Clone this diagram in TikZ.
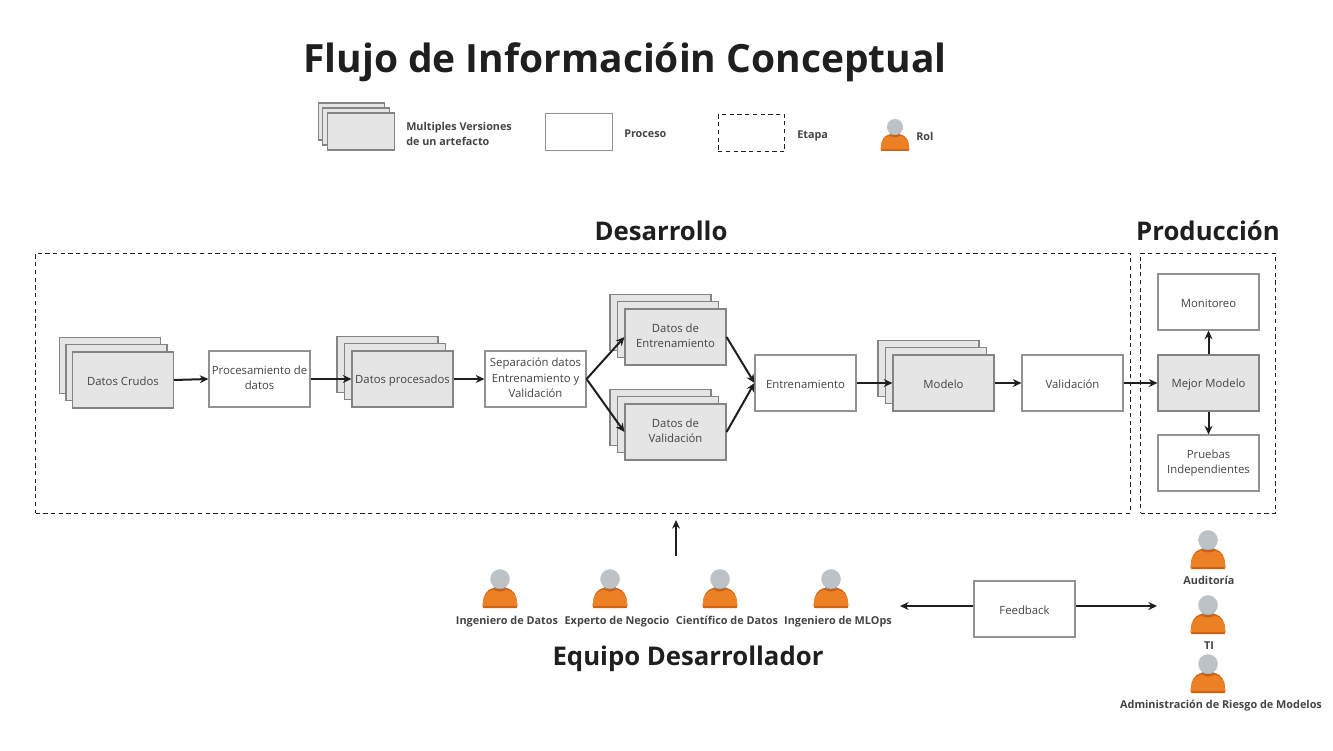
\documentclass[tikz,border=0pt]{standalone}
\usepackage{fontspec}
\setmainfont{Open Sans}
\usetikzlibrary{arrows.meta, positioning}
\definecolor{borde}{HTML}{929292}
\definecolor{bordeart}{HTML}{848484}
\definecolor{relleno}{HTML}{E5E5E5}
\definecolor{texto}{HTML}{444444}
\definecolor{negro}{HTML}{1F1F1F}
\definecolor{naranja}{HTML}{EC8024}
\definecolor{naranjaosc}{HTML}{CF5F0E}
\definecolor{gris}{HTML}{BCC2C6}
\tikzset{
  caja/.style={draw=borde, line width=0.85pt, minimum width=75.75pt, minimum height=42pt, inner sep=0pt, align=center, text=texto, font=\fontsize{8.5}{11.6}\selectfont, execute at begin node={\rule{0pt}{9.5pt}}, execute at end node={\rule[-2pt]{0pt}{2pt}}},
  proceso/.style={caja, fill=white},
  artefacto/.style={caja, draw=bordeart, fill=relleno},
  etapa/.style={draw=negro, line width=0.6pt, dash pattern=on 3.2pt off 2.6pt},
  flecha/.style={draw=negro, line width=1.5pt, -{Stealth[length=6.5pt,width=6pt]}},
  titulo/.style={text=negro, font=\bfseries\fontsize{19.3}{24}\selectfont},
  leyenda/.style={text=texto, anchor=west, align=left, inner sep=0pt, font=\bfseries\fontsize{8.1}{11.6}\selectfont},
  rolname/.style={text=texto, text height=7pt, text depth=2pt, font=\bfseries\fontsize{8.15}{10}\selectfont},
  rol/.pic={
    \fill[naranjaosc] (-16.5,29) to[out=170,in=-90] (-17,24) to[out=90,in=195] (-7,9) -- (7,9) to[out=-15,in=90] (17,24) to[out=-90,in=10] (16.5,29) -- cycle;
    \fill[naranja] (-16.8,27.2) to[out=175,in=-90] (-17,24) to[out=90,in=195] (-7,10.5) to[out=-30,in=210] (7,10.5) to[out=-15,in=90] (17,24) to[out=-90,in=5] (16.8,27.2) -- cycle;
    \fill[gris!70!black] (-6,5) rectangle (6,9.5);
    \fill[gris] (0,0) circle (9.8);
  }
}
\newcommand{\pila}[5][15]{
  \node[artefacto] (#2C) at (#3-#1,#4-14.5) {};
  \node[artefacto] (#2B) at (#3-#1/2,#4-7.25) {};
  \node[artefacto] (#2) at (#3,#4) {#5};
}
\begin{document}
\begin{tikzpicture}[x=0.75pt,y=-0.75pt]
  \useasboundingbox (0,0) rectangle (1333,750);
  % titulos
  \node[text=negro, font=\bfseries\fontsize{29.2}{36}\selectfont] (tituloPrincipal) at (625,62) {Flujo de Informacióin Conceptual};
  \node[titulo] (desarrollo) at (661,231) {Desarrollo};
  \node[titulo] (produccion) at (1208,231) {Producción};
  \node[titulo] (equipo) at (688,659) {Equipo Desarrollador};
  % leyenda
  \node[artefacto, minimum width=50pt, minimum height=27.75pt] (leyC) at (351.5,121.5) {};
  \node[artefacto, minimum width=50pt, minimum height=27.75pt] (leyB) at (356,126.5) {};
  \node[artefacto, minimum width=50pt, minimum height=27.75pt] (leyA) at (361,131.5) {};
  \node[leyenda] (leyArt) at (406,134) {Multiples Versiones\\de un artefacto};
  \node[proceso, minimum width=50pt, minimum height=27.75pt] (leyP) at (579,132) {};
  \node[leyenda] (leyProc) at (624,134) {Proceso};
  \node[etapa, minimum width=50pt, minimum height=27.75pt, inner sep=0pt] (leyE) at (751.5,133) {};
  \node[leyenda] (leyEtapa) at (797,136) {Etapa};
  \pic[scale=0.82] at (895,127) {rol};
  \node[leyenda] (leyRol) at (916,136) {Rol};
  % etapas
  \node[etapa, minimum width=821.25pt, minimum height=195pt, inner sep=0pt] (etapaDes) at (583,383) {};
  \node[etapa, minimum width=101.25pt, minimum height=195pt, inner sep=0pt] (etapaProd) at (1208,383) {};
  % desarrollo
  \pila[13]{crudos}{123}{380}{Datos Crudos}
  \node[proceso] (procesamiento) at (259.5,379) {Procesamiento de\\datos};
  \pila{procesados}{402.5}{379}{Datos procesados}
  \node[proceso] (separacion) at (535.5,379) {Separación datos\\Entrenamiento y\\Validación};
  \pila{dentrena}{675.5}{337}{Datos de\\Entrenamiento}
  \pila{dvalida}{675.5}{432}{Datos de\\Validación}
  \node[proceso] (entrenamiento) at (805.5,383) {Entrenamiento};
  \pila{modelo}{943.5}{383}{Modelo}
  \node[proceso] (validacion) at (1072.5,383) {Validación};
  % produccion
  \node[artefacto] (mejor) at (1208.5,383) {Mejor Modelo};
  \node[proceso] (monitoreo) at (1208.5,302) {Monitoreo};
  \node[proceso] (pruebas) at (1208.5,463) {Pruebas\\Independientes};
  % equipo
  \foreach \px/\lx/\nombre/\rolid in {500/507/Ingeniero de Datos/ingDatos, 610/617/Experto de Negocio/experto, 720/727/Científico de Datos/cientifico, 831/838/Ingeniero de MLOps/ingMlops}{
    \pic at (\px,579) {rol};
    \node[rolname] (\rolid) at (\lx,621) {\nombre};
  }
  \node[proceso] (feedback) at (1024.5,609) {Feedback};
  \pic at (1208,540) {rol};
  \node[rolname] (auditoria) at (1209,581) {Auditoría};
  \pic at (1208,605) {rol};
  \node[rolname] (ti) at (1209,646) {TI};
  \pic at (1208,664) {rol};
  \node[rolname] (riesgo) at (1221,705) {Administración de Riesgo de Modelos};
  % conectores
  \coordinate (apoyoA) at (676,556);
  \coordinate (apoyoB) at (676,520);
  \coordinate (fbEquipo) at (900,606);
  \coordinate (fbRoles) at (1157,606);
  \draw[flecha] (crudos.east) -- (procesamiento.west);
  \draw[flecha] (procesamiento.east) -- (procesados.west);
  \draw[flecha] (procesados.east) -- (separacion.west);
  \draw[flecha] (separacion.east) -- (dentrena.west);
  \draw[flecha] (separacion.east) -- (dvalida.west);
  \draw[flecha] (dentrena.east) -- (entrenamiento.west);
  \draw[flecha] (dvalida.east) -- (entrenamiento.west);
  \draw[flecha] (entrenamiento.east) -- (modelo.west);
  \draw[flecha] (modelo.east) -- (validacion.west);
  \draw[flecha] (validacion.east) -- (mejor.west);
  \draw[flecha] (mejor.north) -- (monitoreo.south);
  \draw[flecha] (mejor.south) -- (pruebas.north);
  \draw[flecha] (apoyoA) -- (apoyoB);
  \draw[flecha] (feedback.west |- fbEquipo) -- (fbEquipo);
  \draw[flecha] (feedback.east |- fbRoles) -- (fbRoles);
\end{tikzpicture}
\end{document}
